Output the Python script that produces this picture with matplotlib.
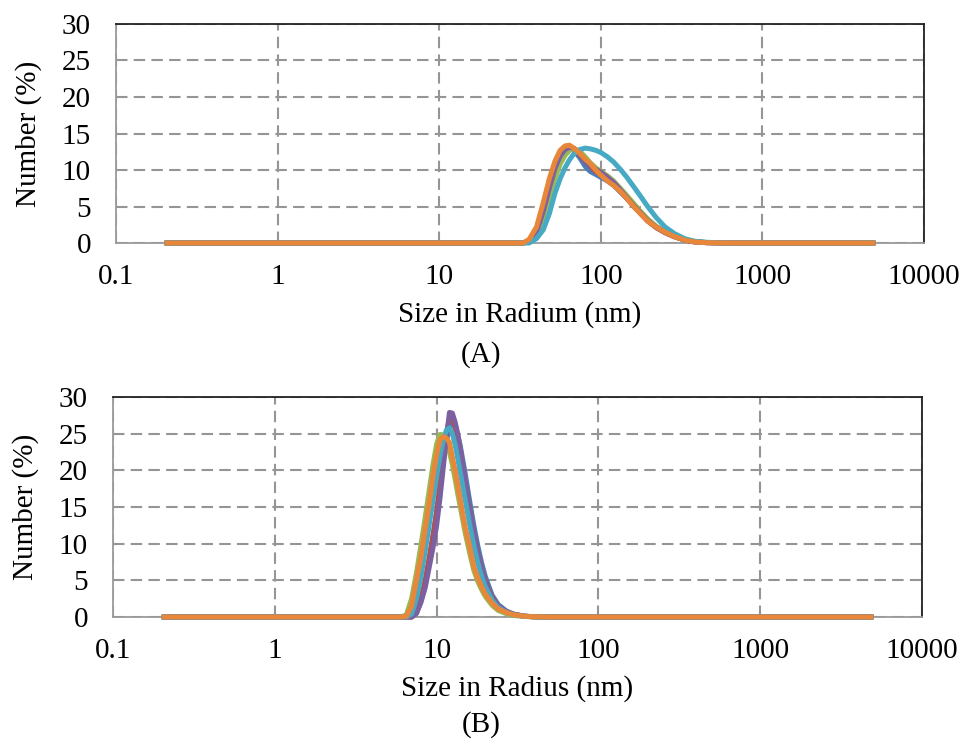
import matplotlib
matplotlib.use("Agg")
import matplotlib.pyplot as plt

plt.rcParams['font.family'] = ['Liberation Serif', 'DejaVu Serif']

# panel A - size distribution by number, radius (nm)
x_a = [0.2, 30, 33, 36, 40, 44, 48, 52, 56, 60, 64, 68, 74, 80, 86, 93, 100,
       110, 120, 132, 145, 160, 175, 195, 220, 250, 285, 330, 380, 450, 600, 5000]
a_blue = [0, 0, 0, 0.3, 1.8, 4.8, 8.0, 10.6, 12.2, 12.9, 13.0, 12.7, 11.7, 10.5, 9.8, 9.4, 9.0,
          8.5, 7.9, 7.0, 6.1, 5.1, 4.2, 3.1, 2.2, 1.5, 0.9, 0.4, 0.15, 0.05, 0, 0]
a_red = [0, 0, 0, 0.3, 1.9, 5.0, 8.3, 10.8, 12.4, 13.1, 13.2, 12.9, 12.1, 11.2, 10.5, 9.8, 9.3,
         8.7, 8.0, 7.1, 6.1, 5.0, 4.1, 3.0, 2.1, 1.4, 0.85, 0.4, 0.15, 0.05, 0, 0]
a_green = [0, 0, 0, 0.1, 1.0, 3.2, 6.0, 8.8, 10.8, 12.0, 12.7, 12.9, 12.6, 11.8, 11.0, 10.3, 9.8,
           9.2, 8.5, 7.5, 6.5, 5.4, 4.4, 3.3, 2.3, 1.5, 0.9, 0.45, 0.2, 0.07, 0, 0]
a_purple = [0, 0, 0, 0.2, 1.5, 4.3, 7.5, 10.2, 11.9, 12.8, 13.1, 13.0, 12.3, 11.3, 10.6, 10.1, 9.7,
            9.0, 8.3, 7.3, 6.2, 5.1, 4.2, 3.1, 2.2, 1.5, 0.9, 0.45, 0.2, 0.06, 0, 0]
a_teal = [0, 0, 0, 0, 0.6, 1.8, 4.0, 6.8, 8.8, 10.3, 11.4, 12.2, 12.8, 13.0, 12.9, 12.7, 12.4,
          11.8, 11.1, 10.1, 9.0, 7.7, 6.5, 5.0, 3.5, 2.2, 1.3, 0.6, 0.25, 0.1, 0, 0]
a_orange = [0, 0, 0, 0.5, 2.2, 5.5, 8.8, 11.2, 12.7, 13.3, 13.4, 13.0, 12.3, 11.5, 10.9, 10.0, 9.3,
            8.5, 7.9, 7.1, 6.1, 5.0, 4.1, 3.0, 2.2, 1.5, 0.9, 0.4, 0.15, 0.05, 0, 0]

# panel B
x_b = [0.2, 6, 6.5, 7, 7.5, 8, 8.5, 9, 9.5, 10, 10.5, 11, 11.5, 12, 12.5, 13, 13.5,
       14, 15, 16, 17, 18, 19, 20, 22, 24, 27, 30, 35, 40, 50, 5000]
b_blue = [0, 0, 0, 0, 0.5, 2.2, 4.8, 8.0, 11.2, 14.5, 18.0, 21.3, 24.0, 25.8, 26.3, 25.9, 24.8,
          23.3, 19.6, 15.8, 12.4, 9.6, 7.3, 5.5, 3.0, 1.7, 0.8, 0.4, 0.12, 0.04, 0, 0]
b_red = [0, 0, 0, 0, 0.6, 2.5, 5.0, 8.0, 11.0, 14.2, 18.0, 21.8, 25.0, 27.2, 27.3, 26.0, 24.3,
         22.4, 18.3, 14.6, 11.3, 8.6, 6.5, 4.9, 2.7, 1.5, 0.7, 0.35, 0.1, 0.03, 0, 0]
b_green = [0, 0, 0.3, 2.5, 6.0, 9.8, 13.6, 17.3, 20.8, 23.6, 24.9, 24.8, 24.0, 22.5, 20.8, 18.8, 16.8,
           15.0, 11.5, 8.7, 6.3, 4.8, 3.7, 2.8, 1.6, 0.9, 0.45, 0.2, 0.07, 0.02, 0, 0]
b_purple = [0, 0, 0, 0, 0.5, 2.0, 4.0, 6.8, 9.5, 12.5, 16.3, 20.5, 24.5, 27.9, 27.8, 26.6, 25.0,
            23.0, 18.5, 14.5, 11.1, 8.5, 6.4, 4.8, 2.6, 1.5, 0.7, 0.35, 0.1, 0.03, 0, 0]
b_teal = [0, 0, 0, 0.4, 2.5, 5.5, 9.0, 12.6, 16.0, 19.2, 22.0, 24.2, 25.5, 25.8, 25.0, 23.5, 21.6,
          19.7, 16.0, 12.6, 9.7, 7.3, 5.5, 4.1, 2.3, 1.3, 0.6, 0.3, 0.1, 0.03, 0, 0]
b_orange = [0, 0, 0.1, 1.5, 5.0, 8.2, 12.0, 15.5, 19.3, 22.2, 24.2, 24.6, 24.4, 23.8, 21.8, 20.0, 18.0,
            16.0, 12.2, 9.6, 6.8, 5.3, 4.1, 3.1, 1.9, 1.1, 0.6, 0.3, 0.1, 0.04, 0, 0]

x_ticks = [0.1, 1, 10, 100, 1000, 10000]
x_ticklabels = ['0.1', '1', '10', '100', '1000', '10000']
y_ticks = [0, 5, 10, 15, 20, 25, 30]

colors = ['#4A7EBB', '#BE4B48', '#98B954', '#7D60A0', '#46AAC5', '#E8873A']

fig = plt.figure(figsize=(9.62, 7.45), dpi=100)
ax_a = fig.add_axes([0.1206, 0.6738, 0.8399, 0.294])
ax_b = fig.add_axes([0.1175, 0.1718, 0.841, 0.2953])


def style_axis(ax, xlabel):
    ax.set_xscale('log')
    ax.set_xlim(0.1, 10000)
    ax.set_ylim(0, 30)
    ax.set_xticks(x_ticks)
    ax.set_xticklabels(x_ticklabels)
    ax.minorticks_off()
    ax.set_yticks(y_ticks)
    ax.tick_params(axis='y', length=0, labelsize=21, pad=18)
    ax.tick_params(axis='x', length=0, labelsize=21, pad=15)
    ax.grid(True, color='#959595', linestyle=(0, (5.5, 3)), linewidth=1.5)
    ax.set_axisbelow(True)
    ax.spines['left'].set_color('#9a9a9a')
    ax.spines['bottom'].set_color('#9a9a9a')
    ax.spines['top'].set_color('#222222')
    ax.spines['right'].set_color('#222222')
    for s in ax.spines.values():
        s.set_linewidth(1.3)
    ax.set_xlabel(xlabel, fontsize=21, labelpad=8)
    ax.set_ylabel('Number (%)', fontsize=21, labelpad=14)


for ys, c in zip([a_blue, a_red, a_green, a_purple, a_teal, a_orange], colors):
    ax_a.plot(x_a, ys, color=c, linewidth=3.6, solid_joinstyle='round',
              solid_capstyle='butt', clip_on=False, zorder=3)
for ys, c in zip([b_blue, b_red, b_green, b_purple, b_teal, b_orange], colors):
    ax_b.plot(x_b, ys, color=c, linewidth=3.6, solid_joinstyle='round',
              solid_capstyle='butt', clip_on=False, zorder=3)

style_axis(ax_a, 'Size in Radium (nm)')
style_axis(ax_b, 'Size in Radius (nm)')

fig.text(0.5, 1 - 355 / 745, '(A)', ha='center', va='center', fontsize=21)
fig.text(0.5, 1 - 725 / 745, '(B)', ha='center', va='center', fontsize=21)

fig.savefig('out.png', dpi=100)
